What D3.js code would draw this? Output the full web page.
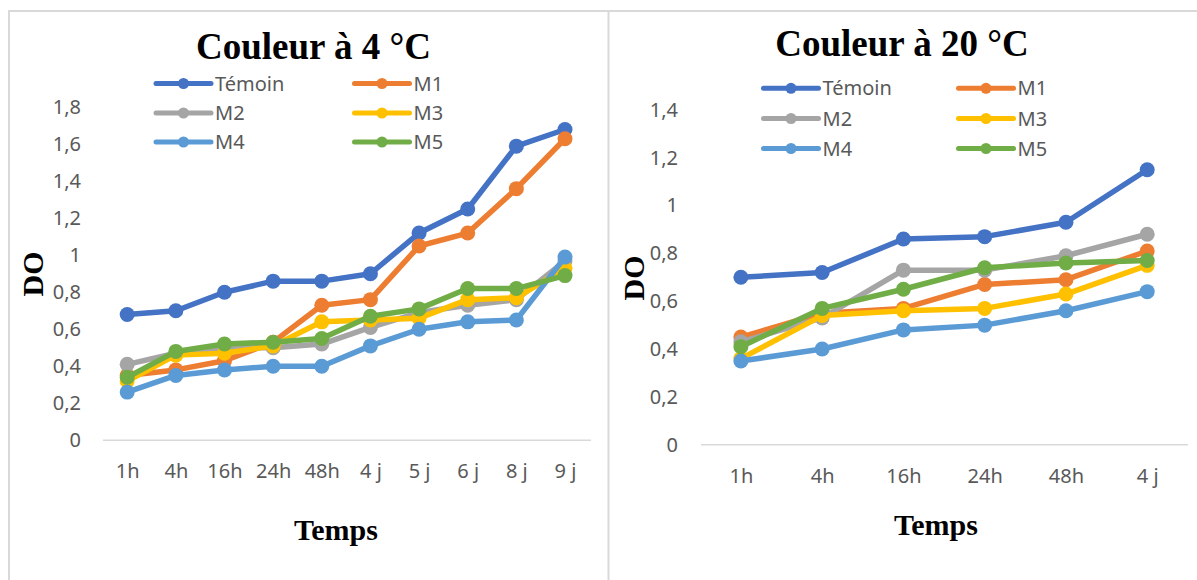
<!DOCTYPE html>
<html lang="fr">
<head>
<meta charset="utf-8">
<title>Couleur à 4 °C et à 20 °C</title>
<script src="https://cdn.jsdelivr.net/npm/d3@7"></script>
<style>
  html, body { margin: 0; padding: 0; background: #ffffff; }
  svg { display: block; }
  .tick text { font-family: "Noto Sans", "Open Sans", sans-serif; font-size: 20px; fill: #595959; }
</style>
</head>
<body>
<svg id="chart" width="1197" height="580"></svg>
<script>
// Time points
const categories4 = ["1h", "4h", "16h", "24h", "48h", "4 j", "5 j", "6 j", "8 j", "9 j"];
const categories20 = ["1h", "4h", "16h", "24h", "48h", "4 j"];

// Series names
const seriesNames = ["Témoin", "M1", "M2", "M3", "M4", "M5"];

// Optical density (DO) at 4 °C
const temoin4 = [0.68, 0.70, 0.80, 0.86, 0.86, 0.90, 1.12, 1.25, 1.59, 1.68];
const m1_4    = [0.35, 0.38, 0.43, 0.53, 0.73, 0.76, 1.05, 1.12, 1.36, 1.63];
const m2_4    = [0.41, 0.47, 0.50, 0.50, 0.52, 0.61, 0.69, 0.73, 0.76, 0.97];
const m3_4    = [0.32, 0.46, 0.47, 0.51, 0.64, 0.65, 0.66, 0.76, 0.77, 0.93];
const m4_4    = [0.26, 0.35, 0.38, 0.40, 0.40, 0.51, 0.60, 0.64, 0.65, 0.99];
const m5_4    = [0.34, 0.48, 0.52, 0.53, 0.55, 0.67, 0.71, 0.82, 0.82, 0.89];

// Optical density (DO) at 20 °C
const temoin20 = [0.70, 0.72, 0.86, 0.87, 0.93, 1.15];
const m1_20    = [0.45, 0.55, 0.57, 0.67, 0.69, 0.81];
const m2_20    = [0.43, 0.53, 0.73, 0.73, 0.79, 0.88];
const m3_20    = [0.36, 0.54, 0.56, 0.57, 0.63, 0.75];
const m4_20    = [0.35, 0.40, 0.48, 0.50, 0.56, 0.64];
const m5_20    = [0.41, 0.57, 0.65, 0.74, 0.76, 0.77];

// Value-axis ticks
const yTicks4 = [0, 0.2, 0.4, 0.6, 0.8, 1.0, 1.2, 1.4, 1.6, 1.8];
const yTicks20 = [0, 0.2, 0.4, 0.6, 0.8, 1.0, 1.2, 1.4];

// Series colours
const seriesColors = ["#4472C4", "#ED7D31", "#A5A5A5", "#FFC000", "#5B9BD5", "#70AD47"];

const svg = d3.select("#chart");
const fmt = v => String(+v.toFixed(1)).replace(".", ",");

// Panel frames
const frameColor = "#d9d9d9";
svg.append("line").attr("x1", 9).attr("x2", 1197).attr("y1", 11).attr("y2", 11)
  .attr("stroke", frameColor).attr("stroke-width", 2);
svg.append("line").attr("x1", 9).attr("x2", 9).attr("y1", 10).attr("y2", 580)
  .attr("stroke", frameColor).attr("stroke-width", 2);
svg.append("line").attr("x1", 608.5).attr("x2", 608.5).attr("y1", 10).attr("y2", 580)
  .attr("stroke", frameColor).attr("stroke-width", 2);

function drawPanel(cfg) {
  const g = svg.append("g");
  const x = d3.scalePoint().domain(cfg.categories).range(cfg.xRange);
  const y = d3.scaleLinear().domain(cfg.yDomain).range(cfg.yRange);

  // Category axis baseline
  g.append("line")
    .attr("x1", cfg.plotLeft).attr("x2", cfg.plotRight)
    .attr("y1", y(0)).attr("y2", y(0))
    .attr("stroke", "#d9d9d9").attr("stroke-width", 1.5);

  // Value axis labels
  const yAxis = g.append("g")
    .attr("transform", `translate(${cfg.plotLeft},0)`)
    .call(d3.axisLeft(y).tickValues(cfg.yTicks).tickFormat(fmt).tickSize(0).tickPadding(cfg.plotLeft - cfg.yLabelRight));
  yAxis.select(".domain").remove();

  // Category axis labels
  const xAxis = g.append("g")
    .attr("transform", `translate(0,${y(0)})`)
    .call(d3.axisBottom(x).tickSize(0).tickPadding(cfg.xLabelPad));
  xAxis.select(".domain").remove();

  // Series: line then markers, in legend order
  const line = d3.line().x((d, i) => x(cfg.categories[i])).y(d => y(d));
  cfg.series.forEach((vals, s) => {
    const sg = g.append("g");
    sg.append("path")
      .datum(vals)
      .attr("d", line)
      .attr("fill", "none")
      .attr("stroke", seriesColors[s])
      .attr("stroke-width", 5.5)
      .attr("stroke-linejoin", "round")
      .attr("stroke-linecap", "round");
    sg.selectAll("circle")
      .data(vals)
      .join("circle")
      .attr("cx", (d, i) => x(cfg.categories[i]))
      .attr("cy", d => y(d))
      .attr("r", 7.5)
      .attr("fill", seriesColors[s]);
  });

  // Title
  g.append("text")
    .attr("x", cfg.titleX).attr("y", cfg.titleY)
    .attr("text-anchor", "middle")
    .attr("font-family", "'Liberation Serif', 'Times New Roman', serif")
    .attr("font-weight", "bold")
    .attr("font-size", 37)
    .attr("fill", "#000")
    .text(cfg.title);

  // Axis titles
  g.append("text")
    .attr("transform", `translate(${cfg.yTitleX},${cfg.yTitleY}) rotate(-90)`)
    .attr("text-anchor", "middle")
    .attr("font-family", "'Liberation Serif', 'Times New Roman', serif")
    .attr("font-weight", "bold")
    .attr("font-size", 30)
    .attr("fill", "#000")
    .text("DO");
  g.append("text")
    .attr("x", cfg.xTitleX).attr("y", cfg.xTitleY)
    .attr("text-anchor", "middle")
    .attr("font-family", "'Liberation Serif', 'Times New Roman', serif")
    .attr("font-weight", "bold")
    .attr("font-size", 30)
    .attr("fill", "#000")
    .text("Temps");

  // Legend: two columns, three rows
  seriesNames.forEach((name, s) => {
    const col = s % 2, row = Math.floor(s / 2);
    const lx = cfg.legendCols[col];
    const ly = cfg.legendRows[row];
    const lg = g.append("g");
    lg.append("line")
      .attr("x1", lx).attr("x2", lx + 55)
      .attr("y1", ly).attr("y2", ly)
      .attr("stroke", seriesColors[s]).attr("stroke-width", 5)
      .attr("stroke-linecap", "round");
    lg.append("circle")
      .attr("cx", lx + 27.5).attr("cy", ly).attr("r", 5.5)
      .attr("fill", seriesColors[s]);
    lg.append("text")
      .attr("x", lx + 59).attr("y", ly + 7)
      .attr("font-family", "'Noto Sans', 'Open Sans', sans-serif")
      .attr("font-size", 20)
      .attr("fill", "#595959")
      .text(name);
  });
}

drawPanel({
  title: "Couleur à 4 °C",
  categories: categories4,
  series: [temoin4, m1_4, m2_4, m3_4, m4_4, m5_4],
  yDomain: [0, 1.8],
  yTicks: yTicks4,
  xRange: [127.2, 565],
  yRange: [440.2, 107.3],
  plotLeft: 103,
  plotRight: 591,
  yLabelRight: 81,
  xLabelPad: 24,
  titleX: 313.5, titleY: 58.5,
  yTitleX: 43, yTitleY: 274,
  xTitleX: 336, xTitleY: 540,
  legendCols: [156, 354.5],
  legendRows: [83.5, 113, 142]
});

drawPanel({
  title: "Couleur à 20 °C",
  categories: categories20,
  series: [temoin20, m1_20, m2_20, m3_20, m4_20, m5_20],
  yDomain: [0, 1.4],
  yTicks: yTicks20,
  xRange: [740.9, 1147.2],
  yRange: [444.7, 109.9],
  plotLeft: 701,
  plotRight: 1188,
  yLabelRight: 678,
  xLabelPad: 24,
  titleX: 902, titleY: 55.5,
  yTitleX: 643.5, yTitleY: 278,
  xTitleX: 936, xTitleY: 535,
  legendCols: [763.5, 958.5],
  legendRows: [88.3, 118.5, 148.5]
});
</script>
</body>
</html>
